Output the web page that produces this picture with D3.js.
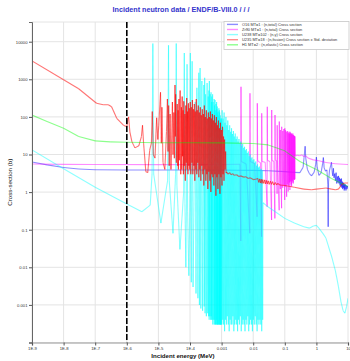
<!DOCTYPE html>
<html>
<head>
<meta charset="utf-8">
<script src="https://cdn.jsdelivr.net/npm/d3@7"></script>
<style>
  body { margin: 0; background: #fff; }
  svg { display: block; font-family: "Liberation Sans", Arial, sans-serif; }
</style>
</head>
<body>
<div id="chart"></div>
<script>
// energies in MeV, cross sections in barns
var o16Total = [
    [1e-9, 6.3], [3e-9, 5.3], [1e-8, 4.5], [3e-8, 4.1], [1e-7, 3.92], [1e-6, 3.88], [1e-4, 3.87],
    [1e-3, 3.85], [3e-3, 3.82], [1e-2, 3.78], [3e-2, 3.68], [0.1, 3.5], [0.2, 3.35], [0.3, 3.3],
    [0.38, 4.6], [0.42, 11], [0.44, 16.5], [0.46, 8], [0.52, 4], [0.6, 3.1], [0.7, 2.7], [0.85, 3.4],
    [0.95, 5.5], [1.0, 8.5], [1.06, 4.6], [1.2, 2.8], [1.4, 3.2], [1.58, 5.8], [1.66, 8.3], [1.76, 4.4],
    [1.95, 3.6], [2.15, 3.9], [2.3, 1.6], [2.36, 0.12], [2.42, 1.9], [2.6, 3.8], [2.85, 5.2], [3.0, 6.2],
    [3.15, 3.6], [3.3, 2.7], [3.45, 4.3], [3.6, 2.4], [3.8, 3.1], [4.0, 2.0], [4.2, 3.3], [4.4, 1.7],
    [4.6, 2.6], [4.8, 1.8], [5.0, 2.7], [5.2, 1.7], [5.4, 2.4], [5.6, 1.5], [5.8, 2.2], [6.0, 1.4],
    [6.2, 2.3], [6.4, 1.3], [6.6, 1.9], [6.8, 1.2], [7.0, 1.8], [7.2, 1.3], [7.4, 1.7], [7.6, 1.1],
    [7.8, 1.6], [8.0, 1.2], [8.3, 1.6], [8.6, 1.1], [9.0, 1.5], [9.3, 1.2], [9.6, 1.45], [10, 1.3]
];

var zr90Total = [
    [1e-9, 5.6], [1e-8, 5.45], [1e-7, 5.4], [1e-5, 5.38], [1e-3, 5.4], [3.8e-3, 5.5],
    [4.05e-3, 0.05], [4.11e-3, 635], [4.2e-3, 6.5], [6e-3, 5.6],
    [7.8e-3, 0.08], [7.9e-3, 425], [8.05e-3, 6.5], [1.1e-2, 5.8],
    [1.33e-2, 0.22], [1.35e-2, 230], [1.38e-2, 6.8], [1.7e-2, 6.0],
    [1.84e-2, 0.065], [1.86e-2, 125], [1.9e-2, 6.5], [2.4e-2, 6.2],
    [2.76e-2, 0.41], [2.79e-2, 187], [2.84e-2, 7], [3.4e-2, 6.4],
    [3.81e-2, 0.18], [3.85e-2, 153], [3.92e-2, 7], [4.5e-2, 6.5],
    [4.85e-2, 0.2], [4.9e-2, 112], [4.98e-2, 7.2], [5.5e-2, 6.8], [5.7e-2, 0.9], [5.75e-2, 60], [5.85e-2, 7],
    [6.64e-2, 0.33], [6.7e-2, 75], [6.8e-2, 7.5], [7.2e-2, 1.2], [7.25e-2, 45], [7.35e-2, 7],
    [7.92e-2, 0.37], [7.98e-2, 55], [8.1e-2, 7.6], [8.6e-2, 1.3], [8.65e-2, 42], [8.8e-2, 7.4],
    [9.3e-2, 1.5], [9.35e-2, 48], [9.5e-2, 7.2],
    [9.93e-2, 0.62], [0.1, 50], [0.102, 7.8], [0.105, 1.4], [0.1055, 44], [0.107, 7.6],
    [0.1142, 0.75], [0.115, 40], [0.117, 8], [0.12, 1.6], [0.1205, 42], [0.1225, 7.8],
    [0.128, 1.03], [0.129, 37], [0.131, 8.2], [0.134, 1.5], [0.1345, 40], [0.137, 8],
    [0.14, 1.8], [0.1405, 36], [0.142, 8.1],
    [0.145, 1.14], [0.146, 40], [0.148, 8.4], [0.152, 1.9], [0.1525, 38], [0.155, 8.2],
    [0.159, 1.6], [0.1595, 35], [0.161, 8.3],
    [0.164, 1.4], [0.165, 37], [0.168, 8.6], [0.172, 2.0], [0.1725, 34], [0.175, 8.4],
    [0.18, 1.8], [0.1805, 36], [0.182, 8.6],
    [0.185, 1.7], [0.186, 33], [0.189, 8.8], [0.194, 2.2], [0.1945, 32], [0.197, 8.7],
    [0.202, 2.1], [0.2025, 31], [0.205, 8.9],
    [0.209, 2.2], [0.21, 30], [0.214, 9.2],
    [0.25, 9.5], [0.3, 9.3], [0.35, 9.8], [0.4, 8.8], [0.45, 9.3], [0.55, 8.0], [0.8, 7.2],
    [1.2, 6.8], [2, 6.1], [4, 5.7], [7, 5.5], [10, 5.4]
];

var u238Capture = [
    [1e-9, 13.2], [1e-8, 4.2], [1e-7, 1.35], [1e-6, 0.48], [3e-6, 0.3], [5.5e-6, 0.45], [6.3e-6, 3],
    [6.67e-6, 9000], [7.1e-6, 3], [1.2e-5, 0.15], [1.95e-5, 2], [2.09e-5, 8000], [2.2e-5, 2],
    [2.9e-5, 0.08], [3.5e-5, 3], [3.67e-5, 9000], [3.85e-5, 1.5], [4.8e-5, 0.03], [6.3e-5, 1],
    [6.6e-5, 5000], [6.9e-5, 0.5], [7.4e-5, 0.01], [7.8e-5, 1], [8.07e-5, 2500], [8.4e-5, 0.3],
    [9.2e-5, 0.006], [1.0e-4, 1], [1.025e-4, 5000], [1.06e-4, 0.2], [1.1e-4, 0.004], [1.169e-4, 3000],
    [1.25e-4, 0.003], [1.457e-4, 250], [1.55e-4, 0.002], [1.653e-4, 600], [1.78e-4, 0.0015],
    [1.897e-4, 1500], [1.99e-4, 0.001], [2.085e-4, 2000], [2.2e-4, 0.0008], [2.374e-4, 900],
    [2.5e-4, 0.0007], [2.737e-4, 700], [2.82e-4, 0.0009], [2.91e-4, 1100], [3.0e-4, 0.0006],
    [3.114e-4, 400], [3.3e-4, 0.0005], [3.478e-4, 800], [3.62e-4, 0.0006], [3.769e-4, 350],
    [3.87e-4, 0.0005], [3.976e-4, 500], [4.04e-4, 0.0004], [4.102e-4, 900], [4.22e-4, 0.0005],
    [4.34e-4, 400], [4.48e-4, 0.0004], [4.63e-4, 450], [4.71e-4, 0.0005], [4.783e-4, 250],
    [4.84e-4, 0.0004], [4.894e-4, 350], [5.05e-4, 0.0004], [5.184e-4, 400], [5.27e-4, 0.0003],
    [5.354e-4, 250], [5.6e-4, 0.0004], [5.802e-4, 300], [5.88e-4, 0.0003], [5.95e-4, 200],
    [6.08e-4, 0.0004], [6.199e-4, 280], [6.24e-4, 0.0003], [6.28e-4, 150], [6.45e-4, 0.0003],
    [6.612e-4, 220], [6.78e-4, 0.0003], [6.931e-4, 250], [7.0e-4, 0.0004], [7.083e-4, 160],
    [7.15e-4, 0.0003], [7.216e-4, 130], [7.26e-4, 0.0003], [7.301e-4, 190], [7.5e-4, 0.0003],
    [7.65e-4, 110], [7.73e-4, 0.0003], [7.82e-4, 140], [8.0e-4, 0.0003], [8.209e-4, 170],
    [8.36e-4, 0.0003], [8.506e-4, 150], [8.53e-4, 0.0004], [8.56e-4, 90], [8.61e-4, 0.0003],
    [8.66e-4, 130], [8.85e-4, 0.0003], [9.05e-4, 110], [9.15e-4, 0.0003], [9.25e-4, 70],
    [9.31e-4, 0.0003], [9.37e-4, 90], [9.48e-4, 0.0003], [9.58e-4, 80], [9.75e-4, 0.0003],
    [9.91e-4, 90], [1.01e-3, 0.0003], [1.04e-3, 150], [1.08e-3, 0.0004], [1.11e-3, 90],
    [1.15e-3, 0.0003], [1.2e-3, 130], [1.24e-3, 0.0002], [1.28e-3, 70], [1.33e-3, 0.0004],
    [1.37e-3, 100], [1.42e-3, 0.0003], [1.47e-3, 60], [1.52e-3, 0.0005], [1.57e-3, 80],
    [1.63e-3, 0.0003], [1.68e-3, 45], [1.74e-3, 0.0002], [1.8e-3, 60], [1.86e-3, 0.0004],
    [1.93e-3, 40], [1.99e-3, 0.0003], [2.06e-3, 50], [2.13e-3, 0.0003], [2.2e-3, 35],
    [2.28e-3, 0.0005], [2.36e-3, 42], [2.44e-3, 0.0002], [2.52e-3, 30], [2.61e-3, 0.0003],
    [2.7e-3, 36], [2.79e-3, 0.0004], [2.89e-3, 26], [2.99e-3, 0.0003], [3.09e-3, 30],
    [3.2e-3, 0.0002], [3.31e-3, 22], [3.42e-3, 0.0004], [3.54e-3, 26], [3.66e-3, 0.0003],
    [3.79e-3, 20], [3.92e-3, 0.0005], [4.05e-3, 22], [4.19e-3, 0.0002], [4.34e-3, 17],
    [4.49e-3, 0.0003], [4.64e-3, 19], [4.8e-3, 0.0004], [4.97e-3, 15], [5.14e-3, 0.0003],
    [5.32e-3, 16], [5.5e-3, 0.0002], [5.69e-3, 13], [5.89e-3, 0.0004], [6.09e-3, 14],
    [6.3e-3, 0.0003], [6.52e-3, 11], [6.74e-3, 0.0005], [6.97e-3, 12], [7.21e-3, 0.0002],
    [7.46e-3, 9], [7.72e-3, 0.0003], [7.99e-3, 10], [8.26e-3, 0.0004], [8.55e-3, 8],
    [8.84e-3, 0.0003], [9.15e-3, 8.5], [9.46e-3, 0.0002], [9.79e-3, 7], [1.01e-2, 0.0004],
    [1.05e-2, 7.5], [1.08e-2, 0.0003], [1.12e-2, 6], [1.16e-2, 0.0005], [1.2e-2, 6.5],
    [1.24e-2, 0.0003], [1.28e-2, 5], [1.33e-2, 0.0002], [1.37e-2, 5.5], [1.42e-2, 0.0004],
    [1.47e-2, 4.5], [1.52e-2, 0.0003], [1.57e-2, 4.8], [1.63e-2, 0.0004], [1.68e-2, 4],
    [1.74e-2, 0.0003], [1.8e-2, 4.2], [1.86e-2, 0.0002], [1.93e-2, 3.8], [1.99e-2, 0.0004],
    [2.05e-2, 0.52], [3e-2, 0.4], [5e-2, 0.3], [0.1, 0.2], [0.2, 0.15], [0.4, 0.12], [0.6, 0.11],
    [0.8, 0.125], [1.0, 0.13], [1.2, 0.11], [1.6, 0.08], [2, 0.06], [3, 0.02], [4, 0.008],
    [5, 0.003], [6, 0.0012], [7, 0.0007], [8, 0.0006], [9, 0.0009], [10, 0.0015]
];

var u235Fission = [
    [1e-9, 3070], [1e-8, 970], [3e-8, 560], [1.1e-7, 230], [1.8e-7, 210], [2.6e-7, 210], [3.3e-7, 187],
    [4.8e-7, 92], [7.8e-7, 60], [1e-6, 55], [1.08e-6, 85], [1.14e-6, 100], [1.25e-6, 40], [1.45e-6, 22],
    [1.8e-6, 15], [2.4e-6, 17], [2.9e-6, 30], [3.14e-6, 60], [3.4e-6, 20], [4.0e-6, 3.5], [4.6e-6, 3.3],
    [5.3e-6, 13], [6.0e-6, 20], [6.4e-6, 140], [6.9e-6, 10], [7.8e-6, 8], [8.8e-6, 95], [9.6e-6, 25],
    [1.03e-5, 60], [1.166e-5, 450], [1.24e-5, 20], [1.29e-5, 180], [1.4e-5, 6], [1.6e-5, 4], [1.8e-5, 40],
    [1.93e-5, 300], [2.02e-5, 12], [2.11e-5, 200], [2.2e-5, 5], [2.34e-5, 120], [2.5e-5, 4],
    [2.78e-5, 250], [2.9e-5, 10], [3.09e-5, 130], [3.2e-5, 8], [3.35e-5, 700], [3.44e-5, 30],
    [3.52e-5, 400], [3.7e-5, 6], [3.94e-5, 220], [4.1e-5, 5], [4.19e-5, 150], [4.3e-5, 4],
    [4.46e-5, 300], [4.6e-5, 7], [4.87e-5, 500], [5.1e-5, 3], [5.34e-5, 180], [5.5e-5, 4],
    [5.65e-5, 350], [5.8e-5, 9], [6.02e-5, 150], [6.2e-5, 3], [6.36e-5, 260], [6.6e-5, 5],
    [6.9e-5, 120], [7.1e-5, 2], [7.35e-5, 200], [7.6e-5, 6], [7.86e-5, 320], [8.1e-5, 4],
    [8.33e-5, 140], [8.6e-5, 3], [8.9e-5, 230], [9.2e-5, 5], [9.5e-5, 170], [9.8e-5, 4],
    [1.02e-4, 250], [1.06e-4, 3], [1.1e-4, 180], [1.15e-4, 6], [1.19e-4, 280], [1.23e-4, 3],
    [1.28e-4, 160], [1.33e-4, 5], [1.37e-4, 220], [1.42e-4, 2], [1.47e-4, 140], [1.53e-4, 4],
    [1.58e-4, 300], [1.64e-4, 3], [1.7e-4, 150], [1.76e-4, 6], [1.83e-4, 200], [1.9e-4, 2.5],
    [1.97e-4, 130], [2.04e-4, 4], [2.12e-4, 180], [2.2e-4, 2], [2.28e-4, 110], [2.37e-4, 5],
    [2.45e-4, 160], [2.55e-4, 3], [2.64e-4, 120], [2.74e-4, 1.5], [2.84e-4, 200], [2.95e-4, 4],
    [3.06e-4, 100], [3.17e-4, 2], [3.29e-4, 150], [3.41e-4, 3], [3.54e-4, 90], [3.67e-4, 1.2],
    [3.81e-4, 130], [3.95e-4, 3.5], [4.1e-4, 100], [4.25e-4, 2], [4.41e-4, 140], [4.57e-4, 1],
    [4.74e-4, 90], [4.92e-4, 3], [5.1e-4, 120], [5.29e-4, 2.5], [5.49e-4, 80], [5.7e-4, 1.5],
    [5.91e-4, 110], [6.13e-4, 3], [6.36e-4, 70], [6.6e-4, 0.8], [6.85e-4, 100], [7.1e-4, 2.5],
    [7.37e-4, 60], [7.65e-4, 1.2], [7.93e-4, 80], [8.23e-4, 3], [8.54e-4, 50], [8.86e-4, 0.9],
    [9.19e-4, 70], [9.53e-4, 2.5], [9.89e-4, 45], [1.03e-3, 1.5], [1.07e-3, 55], [1.11e-3, 3],
    [1.15e-3, 30], [1.19e-3, 2], [1.24e-3, 25], [1.29e-3, 4], [1.34e-3, 12], [1.39e-3, 3.2],
    [1.45e-3, 3.4], [1.6e-3, 3.0], [1.8e-3, 3.3], [2.0e-3, 2.9], [2.25e-3, 3.1], [2.5e-3, 2.8],
    [3e-3, 2.9], [3.5e-3, 2.6], [4e-3, 2.7], [5e-3, 2.5], [6e-3, 2.55], [7e-3, 2.3], [8e-3, 2.4],
    [1e-2, 2.15], [1.2e-2, 2.2], [1.4e-2, 2.3], [1.5e-2, 1.8], [1.6e-2, 2.25], [1.7e-2, 1.75],
    [1.8e-2, 2.2], [1.9e-2, 1.7], [2.0e-2, 2.15], [2.15e-2, 1.7], [2.3e-2, 2.1], [2.45e-2, 1.65],
    [2.6e-2, 2.05], [2.8e-2, 1.65], [3.0e-2, 2.0], [3.2e-2, 1.6], [3.5e-2, 1.95], [3.8e-2, 1.6],
    [4.1e-2, 1.9], [4.5e-2, 1.55], [5e-2, 1.8], [5.5e-2, 1.55], [6e-2, 1.7], [7e-2, 1.55],
    [0.1, 1.5], [0.2, 1.35], [0.4, 1.2], [0.7, 1.15], [1, 1.2], [1.5, 1.25], [2, 1.28], [3, 1.2],
    [4, 1.15], [5, 1.2], [6, 1.5], [7, 1.7], [8, 1.75], [10, 1.75]
];

var h1Elastic = [
    [1e-9, 112], [3e-9, 75], [1e-8, 50], [3e-8, 30], [1e-7, 23], [3e-7, 21.6], [1e-6, 21.2],
    [1e-5, 20.6], [1e-4, 20.5], [1e-3, 20.4], [1e-2, 19.6], [3e-2, 18], [0.1, 12.5], [0.3, 6.5],
    [1, 4.0], [3, 2.3], [10, 1.4]
];

var seriesData = [o16Total, zr90Total, u238Capture, u235Fission, h1Elastic];
var seriesColors = ["#0000ff", "#ff00ff", "#00ffff", "#ff0000", "#00ff00"];
var seriesOpacity = [0.45, 0.45, 0.45, 0.55, 0.45];
var legendColors = ["#8c8cff", "#ff8cff", "#8cffff", "#ff8c8c", "#8cff8c"];
var legendLabels = [
    "O16 MT=1 : (n,total) Cross section",
    "Zr90 MT=1 : (n,total) Cross section",
    "U238 MT=102 : (n,\u03b3) Cross section",
    "U235 MT=18 : (n,fission) Cross section \u00b1 Std. deviation",
    "H1 MT=2 : (n,elastic) Cross section"
];

var xTicks = [1e-9, 1e-8, 1e-7, 1e-6, 1e-5, 1e-4, 1e-3, 1e-2, 0.1, 1, 10];
var xTickLabels = ["1E-9", "1E-8", "1E-7", "1E-6", "1E-5", "1E-4", "0.001", "0.01", "0.1", "1", "10"];
var yTicks = [1e-4, 1e-3, 1e-2, 0.1, 1, 10, 100, 1000, 10000];
var yTickLabels = ["", "0.001", "0.01", "0.1", "1", "10", "100", "1000", "10000"];
var markerEnergy = 1e-6;

(function () {
    var width = 350,
        height = 361,
        plotLeft = 32,
        plotRight = 348,
        plotTop = 22,
        plotBottom = 342.5;

    var svg = d3
        .select("#chart")
        .append("svg")
        .attr("width", width)
        .attr("height", height);

    var x = d3.scaleLog().domain([1e-9, 10]).range([plotLeft, plotRight]);
    var y = d3.scaleLog().domain([1e-4, 3.34e4]).range([plotBottom, plotTop]);

    // grid
    svg.append("g")
        .selectAll("line")
        .data(xTicks)
        .enter()
        .append("line")
        .attr("x1", (d) => x(d))
        .attr("x2", (d) => x(d))
        .attr("y1", plotTop)
        .attr("y2", plotBottom)
        .attr("stroke", "#e4e4e4")
        .attr("stroke-width", 1);

    svg.append("g")
        .selectAll("line")
        .data(yTicks.concat([3.34e4]))
        .enter()
        .append("line")
        .attr("x1", plotLeft)
        .attr("x2", plotRight)
        .attr("y1", (d) => y(d))
        .attr("y2", (d) => y(d))
        .attr("stroke", "#e4e4e4")
        .attr("stroke-width", 1);

    // clip the curves to the plot area
    svg.append("clipPath")
        .attr("id", "plot-clip")
        .append("rect")
        .attr("x", plotLeft)
        .attr("y", plotTop)
        .attr("width", plotRight - plotLeft)
        .attr("height", plotBottom - plotTop);

    var plot = svg.append("g").attr("clip-path", "url(#plot-clip)");

    // each segment is its own line so dense resonances pile up in colour
    seriesData.forEach(function (series, i) {
        plot.append("g")
            .selectAll("line")
            .data(d3.pairs(series))
            .enter()
            .append("line")
            .attr("x1", (d) => x(d[0][0]))
            .attr("y1", (d) => y(d[0][1]))
            .attr("x2", (d) => x(d[1][0]))
            .attr("y2", (d) => y(d[1][1]))
            .attr("stroke", seriesColors[i])
            .attr("stroke-opacity", seriesOpacity[i])
            .attr("stroke-width", 1.1);
    });

    // dashed marker line
    svg.append("line")
        .attr("x1", x(markerEnergy))
        .attr("x2", x(markerEnergy))
        .attr("y1", plotTop)
        .attr("y2", plotBottom)
        .attr("stroke", "#000")
        .attr("stroke-width", 1.6)
        .attr("stroke-dasharray", "6,2");

    // axes
    var xAxis = d3.axisBottom(x)
        .tickValues(xTicks)
        .tickFormat((d, i) => xTickLabels[i])
        .tickSize(3)
        .tickPadding(1.5);
    var gx = svg.append("g")
        .attr("transform", "translate(0," + plotBottom + ")")
        .call(xAxis);
    gx.select(".domain").attr("stroke", "#b8b8b8").attr("stroke-width", 1.5);
    gx.selectAll(".tick line").attr("stroke", "#555");
    gx.selectAll(".tick text")
        .attr("fill", "#333")
        .style("font-size", "4.2px")
        .style("font-family", "'Liberation Sans', Arial, sans-serif");

    var yAxis = d3.axisLeft(y)
        .tickValues(yTicks)
        .tickFormat((d, i) => yTickLabels[i])
        .tickSize(3)
        .tickPadding(1.5);
    var gy = svg.append("g")
        .attr("transform", "translate(" + plotLeft + ",0)")
        .call(yAxis);
    gy.select(".domain").attr("stroke", "#666").attr("stroke-width", 1);
    gy.selectAll(".tick line").attr("stroke", "#555");
    gy.selectAll(".tick text")
        .attr("fill", "#333")
        .style("font-size", "4.2px")
        .style("font-family", "'Liberation Sans', Arial, sans-serif");

    // title and axis labels
    svg.append("text")
        .attr("x", 181)
        .attr("y", 12)
        .attr("text-anchor", "middle")
        .attr("fill", "#3333cc")
        .style("font-size", "7.2px")
        .style("font-weight", "bold")
        .text("Incident neutron data / ENDF/B-VIII.0 / / /");

    svg.append("text")
        .attr("x", 183)
        .attr("y", 358)
        .attr("text-anchor", "middle")
        .attr("fill", "#111")
        .style("font-size", "6.1px")
        .style("font-weight", "bold")
        .text("Incident energy (MeV)");

    svg.append("text")
        .attr("transform", "translate(12," + ((plotTop + plotBottom) / 2) + ") rotate(-90)")
        .attr("text-anchor", "middle")
        .attr("fill", "#111")
        .style("font-size", "6.2px")
        .text("Cross-section (b)");

    // legend
    var legend = svg.append("g").attr("class", "legend");
    legend.append("rect")
        .attr("x", 224)
        .attr("y", 21.5)
        .attr("width", 125)
        .attr("height", 28)
        .attr("fill", "#fff")
        .attr("stroke", "#c8c8c8")
        .attr("stroke-width", 0.8);

    legend.selectAll("line")
        .data(legendColors)
        .enter()
        .append("line")
        .attr("x1", 227)
        .attr("x2", 238)
        .attr("y1", (d, i) => 24.4 + i * 5.1)
        .attr("y2", (d, i) => 24.4 + i * 5.1)
        .attr("stroke", (d) => d)
        .attr("stroke-width", 1.4);

    legend.selectAll("text")
        .data(legendLabels)
        .enter()
        .append("text")
        .attr("x", 242)
        .attr("y", (d, i) => 24.4 + i * 5.1)
        .attr("dy", "0.35em")
        .attr("fill", "#333")
        .style("font-size", "3.9px")
        .text((d) => d);
})();
</script>
</body>
</html>
